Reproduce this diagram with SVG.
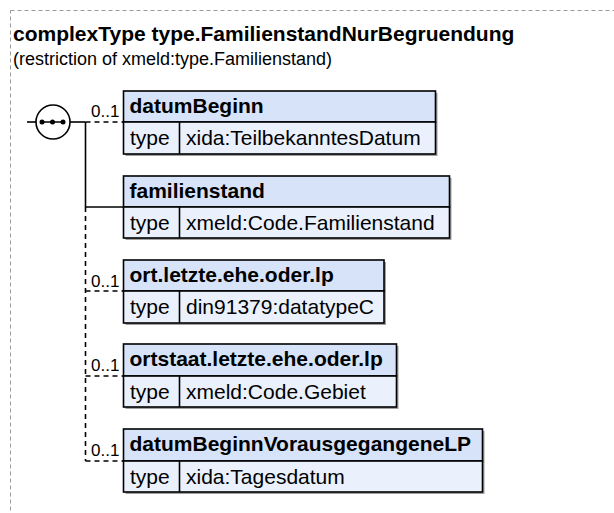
<svg xmlns="http://www.w3.org/2000/svg" width="614" height="513" viewBox="0 0 614 513">
<style>
.frame{fill:none;stroke:#9a9a9a;stroke-width:1;stroke-dasharray:4 3}
.title{font-family:"Liberation Sans",Arial,sans-serif;font-weight:bold;font-size:21px;fill:#000}
.sub{font-family:"Liberation Sans",Arial,sans-serif;font-size:18px;fill:#000}
.hdr{fill:#d6e3f8;stroke:#000;stroke-width:1.6}
.row{fill:#eaf1fc;stroke:#000;stroke-width:1.6}
.shadow{fill:#a0a0a0}
.name{font-family:"Liberation Sans",Arial,sans-serif;font-weight:bold;font-size:21px;fill:#000}
.txt{font-family:"Liberation Sans",Arial,sans-serif;font-size:21px;fill:#000}
.card{font-family:"Liberation Sans",Arial,sans-serif;font-size:17px;fill:#000}
.solid{fill:none;stroke:#000;stroke-width:1.6}
.dash{fill:none;stroke:#000;stroke-width:1.6;stroke-dasharray:5 4}
</style>
<rect class="frame" x="10.5" y="10.5" width="700" height="600"/>
<text class="title" x="13" y="41">complexType type.FamilienstandNurBegruendung</text>
<text class="sub" x="13" y="65">(restriction of xmeld:type.Familienstand)</text>

<g id="connectors">
<line class="solid" x1="27" y1="122" x2="36" y2="122"/>
<line class="solid" x1="70" y1="122" x2="85.5" y2="122"/>
<line class="solid" x1="85.5" y1="122" x2="85.5" y2="207"/>
<line class="dash" x1="85.5" y1="207" x2="85.5" y2="461"/>
<line class="dash" x1="85.5" y1="122" x2="123" y2="122"/>
<line class="solid" x1="85.5" y1="207" x2="123" y2="207"/>
<line class="dash" x1="85.5" y1="291" x2="123" y2="291"/>
<line class="dash" x1="85.5" y1="376" x2="123" y2="376"/>
<line class="dash" x1="85.5" y1="461" x2="123" y2="461"/>
<text class="card" x="91" y="117">0..1</text>
<text class="card" x="91" y="287">0..1</text>
<text class="card" x="91" y="371">0..1</text>
<text class="card" x="91" y="456">0..1</text>
</g>

<g id="sequence">
<circle cx="53" cy="122" r="17" fill="#fff" stroke="#000" stroke-width="1.6"/>
<line x1="42" y1="122" x2="63" y2="122" stroke="#000" stroke-width="1.5"/>
<circle cx="42" cy="122" r="2.5" fill="#000"/>
<circle cx="52.5" cy="122" r="2.5" fill="#000"/>
<circle cx="63" cy="122" r="2.5" fill="#000"/>
</g>

<g id="datumBeginn">
<rect class="shadow" x="125.5" y="93" width="312" height="63"/>
<rect class="hdr" x="123.5" y="91" width="312" height="31"/>
<rect class="row" x="123.5" y="122" width="312" height="32"/>
<line class="solid" x1="179.5" y1="122" x2="179.5" y2="154"/>
<text class="name" x="129.5" y="113">datumBeginn</text>
<text class="txt" x="130" y="145">type</text>
<text class="txt" x="186" y="145">xida:TeilbekanntesDatum</text>
</g>

<g id="familienstand">
<rect class="shadow" x="125.5" y="178" width="326" height="62"/>
<rect class="hdr" x="123.5" y="176" width="326" height="31"/>
<rect class="row" x="123.5" y="207" width="326" height="31"/>
<line class="solid" x1="179.5" y1="207" x2="179.5" y2="238"/>
<text class="name" x="129.5" y="198">familienstand</text>
<text class="txt" x="130" y="230">type</text>
<text class="txt" x="186" y="230">xmeld:Code.Familienstand</text>
</g>

<g id="ort.letzte.ehe.oder.lp">
<rect class="shadow" x="125.5" y="262" width="260.5" height="63"/>
<rect class="hdr" x="123.5" y="260" width="260.5" height="31"/>
<rect class="row" x="123.5" y="291" width="260.5" height="32"/>
<line class="solid" x1="179.5" y1="291" x2="179.5" y2="323"/>
<text class="name" x="129.5" y="282">ort.letzte.ehe.oder.lp</text>
<text class="txt" x="130" y="314">type</text>
<text class="txt" x="186" y="314">din91379:datatypeC</text>
</g>

<g id="ortstaat.letzte.ehe.oder.lp">
<rect class="shadow" x="125.5" y="346" width="273" height="63"/>
<rect class="hdr" x="123.5" y="344" width="273" height="32"/>
<rect class="row" x="123.5" y="376" width="273" height="31"/>
<line class="solid" x1="179.5" y1="376" x2="179.5" y2="407"/>
<text class="name" x="129.5" y="366">ortstaat.letzte.ehe.oder.lp</text>
<text class="txt" x="130" y="399">type</text>
<text class="txt" x="186" y="399">xmeld:Code.Gebiet</text>
</g>

<g id="datumBeginnVorausgegangeneLP">
<rect class="shadow" x="125.5" y="431" width="359" height="63"/>
<rect class="hdr" x="123.5" y="429" width="359" height="32"/>
<rect class="row" x="123.5" y="461" width="359" height="31"/>
<line class="solid" x1="179.5" y1="461" x2="179.5" y2="492"/>
<text class="name" x="129.5" y="451">datumBeginnVorausgegangeneLP</text>
<text class="txt" x="130" y="484">type</text>
<text class="txt" x="186" y="484">xida:Tagesdatum</text>
</g>
</svg>
